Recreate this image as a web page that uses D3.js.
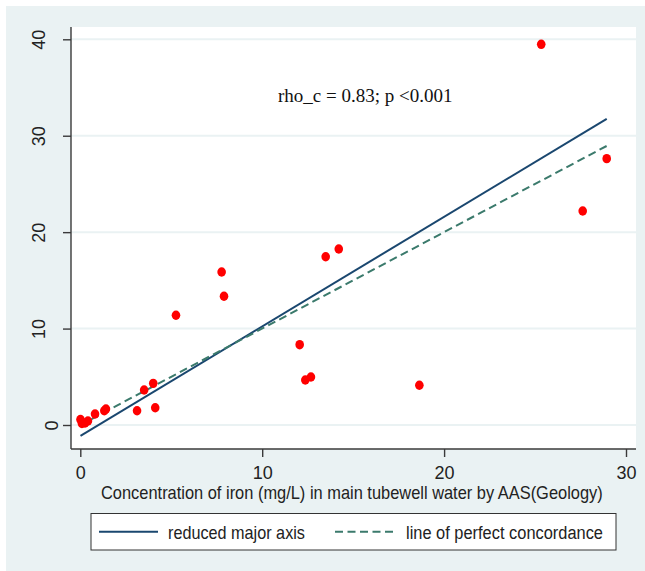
<!DOCTYPE html>
<html lang="en">
<head>
<meta charset="UTF-8">
<title>Iron concordance</title>
<script src="https://d3js.org/d3.v7.min.js"></script>
<style>
  * { margin: 0; padding: 0 }
  body { background: #fff; }
  .sans { font-family: "Liberation Sans Narrow", "Liberation Sans", Arial, sans-serif; fill: #222; }
</style>
</head>
<body>
<div id="chart"></div>
<script>
// iron by AAS (Geology) on x, comparison method on y
const ironAAS = [0.01, 0.09, 0.26, 0.42, 0.81, 1.32, 1.41, 3.12, 3.51, 4.01, 4.12, 5.26,
  7.77, 7.90, 12.06, 12.37, 12.68, 13.49, 14.21, 18.64, 25.34, 27.62, 28.94];
const ironTest = [0.57, 0.16, 0.21, 0.41, 1.14, 1.48, 1.66, 1.48, 3.63, 4.32, 1.79, 11.38,
  15.87, 13.35, 8.33, 4.67, 4.98, 17.45, 18.25, 4.12, 39.48, 22.19, 27.62];
const xTicks = [0, 10, 20, 30];
const yTicks = [0, 10, 20, 30, 40];
const rmaIntercept = -1.15;
const rmaSlope = 1.137;
const annotation = 'rho_c = 0.83; p <0.001';
const xTitle = 'Concentration of iron (mg/L) in main tubewell water by AAS(Geology)';
const legendLabels = ['reduced major axis', 'line of perfect concordance'];

const W = 645, H = 571;
const plot = { left: 71, right: 636, top: 27, bottom: 449 };

const svg = d3.select('#chart').append('svg')
  .attr('width', W).attr('height', H);

// squeeze a text horizontally so it spans `width` px from (x0, yb)
function fitText(sel, x0, yb, width) {
  const natural = sel.node().getComputedTextLength();
  const sx = Math.min(1, width / natural);
  sel.attr('x', 0).attr('y', 0)
    .attr('transform', `translate(${x0},${yb}) scale(${sx},1)`);
}

// graph region
svg.append('rect').attr('x', 6).attr('y', 6).attr('width', W - 6).attr('height', H - 6)
  .attr('fill', '#eaf2f3');
svg.append('rect').attr('x', plot.left).attr('y', plot.top)
  .attr('width', plot.right - plot.left).attr('height', plot.bottom - plot.top)
  .attr('fill', '#fff');

const x = d3.scaleLinear().domain([0, 30]).range([80.3, 626]);
const y = d3.scaleLinear().domain([0, 40]).range([425, 39.3]);

// grid
svg.append('g').selectAll('line').data(yTicks).join('line')
  .attr('x1', plot.left).attr('x2', plot.right)
  .attr('y1', d => y(d)).attr('y2', d => y(d))
  .attr('stroke', '#eaf2f3').attr('stroke-width', 2);

// y axis
const gy = svg.append('g').attr('transform', `translate(${plot.left},0)`)
  .call(d3.axisLeft(y).tickValues(yTicks).tickSize(8).tickFormat(d3.format('d')));
gy.select('.domain').attr('d', `M0,${plot.top}V${plot.bottom}`);
gy.selectAll('line, .domain').attr('stroke', '#3a3a3a').attr('stroke-width', 1.4);
gy.selectAll('text')
  .attr('class', 'sans')
  .attr('x', null).attr('dy', null)
  .attr('transform', function (d) {
    const len = String(d).length;
    return `translate(${-1 - 12.5 * len},0) rotate(-90)`;
  })
  .attr('text-anchor', 'middle')
  .style('font-size', '18px')
  .style('font-family', '"Liberation Sans", Arial, sans-serif');

// x axis
const gx = svg.append('g').attr('transform', `translate(0,${plot.bottom})`)
  .call(d3.axisBottom(x).tickValues(xTicks).tickSize(8).tickFormat(d3.format('d')));
gx.select('.domain').attr('d', `M${plot.left},0H${plot.right}`);
gx.selectAll('line, .domain').attr('stroke', '#3a3a3a').attr('stroke-width', 1.4);
gx.selectAll('text')
  .attr('class', 'sans')
  .attr('y', 29.5).attr('dy', null)
  .style('font-size', '18px');

const title = svg.append('text').attr('class', 'sans')
  .style('font-size', '18px')
  .text(xTitle);
fitText(title, 101, 499, 502);

// fitted lines over the observed range
const xr = d3.extent(ironAAS);
const line = d3.line().x(d => x(d[0])).y(d => y(d[1]));
const rmaPts = xr.map(v => [v, rmaIntercept + rmaSlope * v]);
const idPts = xr.map(v => [v, v]);

svg.append('path').attr('d', line(rmaPts))
  .attr('fill', 'none').attr('stroke', '#1a476f').attr('stroke-width', 2);
svg.append('path').attr('d', line(idPts))
  .attr('fill', 'none').attr('stroke', '#3b7a6c').attr('stroke-width', 2)
  .attr('stroke-dasharray', '8,4.5');

// points
svg.append('g').selectAll('ellipse').data(ironAAS).join('ellipse')
  .attr('cx', d => x(d))
  .attr('cy', (d, i) => y(ironTest[i]))
  .attr('rx', 4.3).attr('ry', 4.7)
  .attr('fill', '#ff0000');

// annotation
const note = svg.append('text')
  .style('font-family', '"Liberation Serif", "Times New Roman", serif')
  .style('font-size', '19px')
  .style('fill', '#111')
  .text(annotation);
fitText(note, 278, 102, 177);

// legend
const lg = svg.append('g');
lg.append('rect').attr('x', 91).attr('y', 513.5).attr('width', 525).attr('height', 36.5)
  .attr('fill', '#fff').attr('stroke', '#333').attr('stroke-width', 1);
const legendItems = [
  { label: legendLabels[0], x0: 99, x1: 158, tx: 168, tw: 137, color: '#1a476f', dash: null },
  { label: legendLabels[1], x0: 335, x1: 396, tx: 406, tw: 197, color: '#3b7a6c', dash: '8,4.5' }
];
legendItems.forEach(it => {
  lg.append('line').attr('x1', it.x0).attr('x2', it.x1).attr('y1', 531.7).attr('y2', 531.7)
    .attr('stroke', it.color).attr('stroke-width', 2)
    .attr('stroke-dasharray', it.dash);
  const t = lg.append('text').attr('class', 'sans')
    .style('font-size', '19px')
    .text(it.label);
  fitText(t, it.tx, 538.5, it.tw);
});
</script>
</body>
</html>
